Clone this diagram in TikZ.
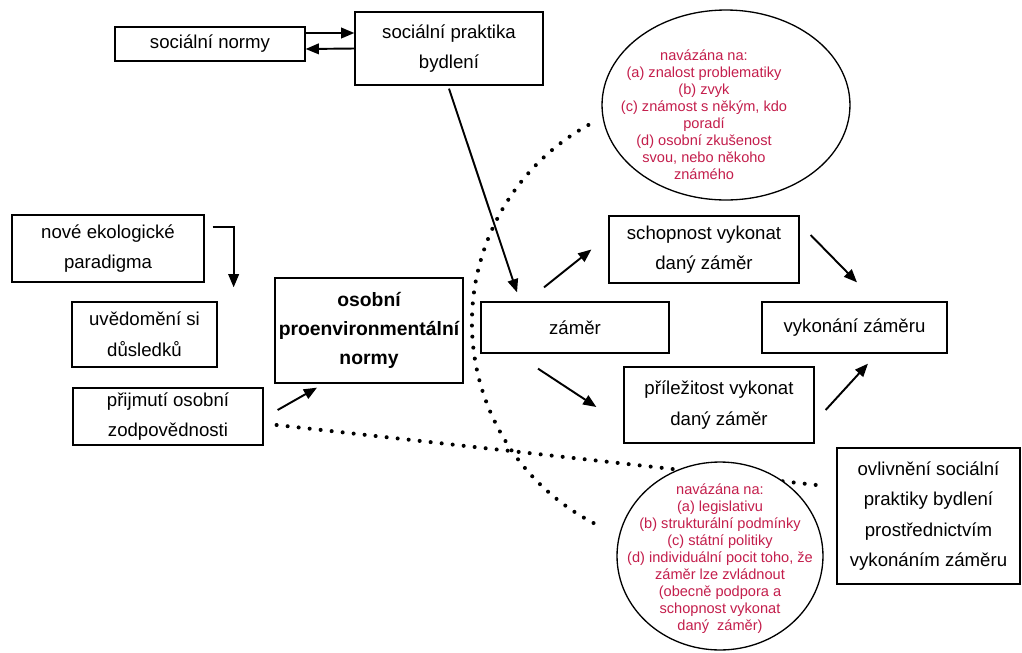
\documentclass[tikz,border=0pt]{standalone}
\usepackage{fontspec}
\setmainfont{Liberation Sans}
\usetikzlibrary{arrows.meta, shapes.geometric, backgrounds}
\definecolor{navazred}{RGB}{196,30,76}
\tikzset{
  box/.style={draw, line width=0.75pt, inner sep=0pt, align=center, font=\fontsize{10.6}{17.4}\selectfont},
  kruh/.style={draw, ellipse, line width=0.75pt, fill=white, inner sep=0pt},
  navaz/.style={text=navazred, align=center, font=\fontsize{8.3}{9.7}\selectfont},
  tecky/.style={line width=2.3pt, line cap=round, dash pattern=on 0pt off 6.3pt},
}

\begin{document}
\begin{tikzpicture}[>={Triangle[length=7.5pt,width=6pt]}, x=0.02cm, y=-0.02cm, line width=1.1pt]
\useasboundingbox (0,0) rectangle (1022,653);
\node[box, minimum width=3.8cm, minimum height=0.68cm] (normy) at (210,44) {sociální normy};
\node[box, minimum width=3.76cm, minimum height=1.46cm] (praktika) at (449,48.5) {sociální praktika\\bydlení};
\node[box, minimum width=3.84cm, minimum height=1.34cm] (nove) at (108,248.5) {nové ekologické\\paradigma};
\node[box, minimum width=2.9cm, minimum height=1.3cm] (uvedomeni) at (144.5,334.5) {uvědomění si\\důsledků};
\node[box, minimum width=3.8cm, minimum height=1.14cm] (prijmuti) at (168,416.5) {přijmutí osobní\\zodpovědnosti};
\node[box, minimum width=3.76cm, minimum height=2.1cm, font=\fontsize{11}{16.5}\selectfont\bfseries] (osobni) at (369,330.5) {osobní\\proenvironmentální\\normy};
\node[box, minimum width=3.76cm, minimum height=1.02cm] (zamer) at (575,327.5) {záměr};
\node[box, minimum width=3.8cm, minimum height=1.34cm] (schopnost) at (704,249.5) {schopnost vykonat\\daný záměr};
\node[box, minimum width=3.7cm, minimum height=1.02cm] (vykonani) at (854.5,327.5) {vykonání záměru};
\node[box, minimum width=3.8cm, minimum height=1.52cm] (prilezitost) at (719,405) {příležitost vykonat\\daný záměr};
\node[box, minimum width=3.66cm, minimum height=2.72cm] (ovlivneni) at (928.5,516) {ovlivnění sociální\\praktiky bydlení\\prostřednictvím\\vykonáním záměru};

\node[kruh, minimum width=4.96cm, minimum height=3.8cm, label={[navaz, xshift=-0.44cm, yshift=-0.2cm]center:{navázána na:\\(a) znalost problematiky\\(b) zvyk\\(c) známost s někým, kdo\\poradí\\(d) osobní zkušenost\\svou, nebo někoho\\známého}}] (vazbaA) at (726,105) {};
\node[kruh, minimum width=4.12cm, minimum height=3.76cm, label={[navaz, yshift=-0.05cm]center:{navázána na:\\(a) legislativu\\(b) strukturální podmínky\\(c) státní politiky\\(d) individuální pocit toho, že\\záměr lze zvládnout\\(obecně podpora a\\schopnost vykonat\\daný\ \ záměr)}}] (vazbaB) at (720,556) {};

\begin{scope}[on background layer]
\draw[tecky] ([xshift=0.26cm,yshift=-0.17cm]prijmuti.east) -- ([xshift=-0.4cm,yshift=0.62cm]ovlivneni.west);
\draw[tecky] ([xshift=-0.26cm,yshift=-0.4cm]vazbaA.west) arc[start angle=119, end angle=245, radius=4.52cm];
\end{scope}

\draw[->] ([yshift=0.22cm]normy.east) -- ([yshift=0.31cm]praktika.west);
\draw[->] (praktika.west) -- ([yshift=-0.1cm]normy.east);
\draw[->] ([yshift=-0.06cm]praktika.south) -- ([xshift=-1.16cm,yshift=0.18cm]zamer.north);
\draw[->] ([xshift=0.16cm,yshift=0.43cm]nove.east) -| ([xshift=0.32cm,yshift=0.28cm]uvedomeni.north east);
\draw[->] ([xshift=0.28cm,yshift=0.13cm]prijmuti.east) -- ([xshift=-1.04cm,yshift=-0.08cm]osobni.south);
\draw[->] ([xshift=-0.62cm,yshift=0.28cm]zamer.north) -- ([xshift=-0.34cm]schopnost.west);
\draw[->] ([xshift=-0.74cm,yshift=-0.3cm]zamer.south) -- ([xshift=-0.54cm,yshift=-0.04cm]prilezitost.west);
\draw[->] ([xshift=0.22cm,yshift=0.29cm]schopnost.east) -- ([xshift=0.05cm,yshift=0.38cm]vykonani.north);
\draw[->] ([xshift=0.22cm,yshift=-0.1cm]prilezitost.east) -- ([xshift=0.27cm,yshift=-0.2cm]vykonani.south);

\end{tikzpicture}
\end{document}
